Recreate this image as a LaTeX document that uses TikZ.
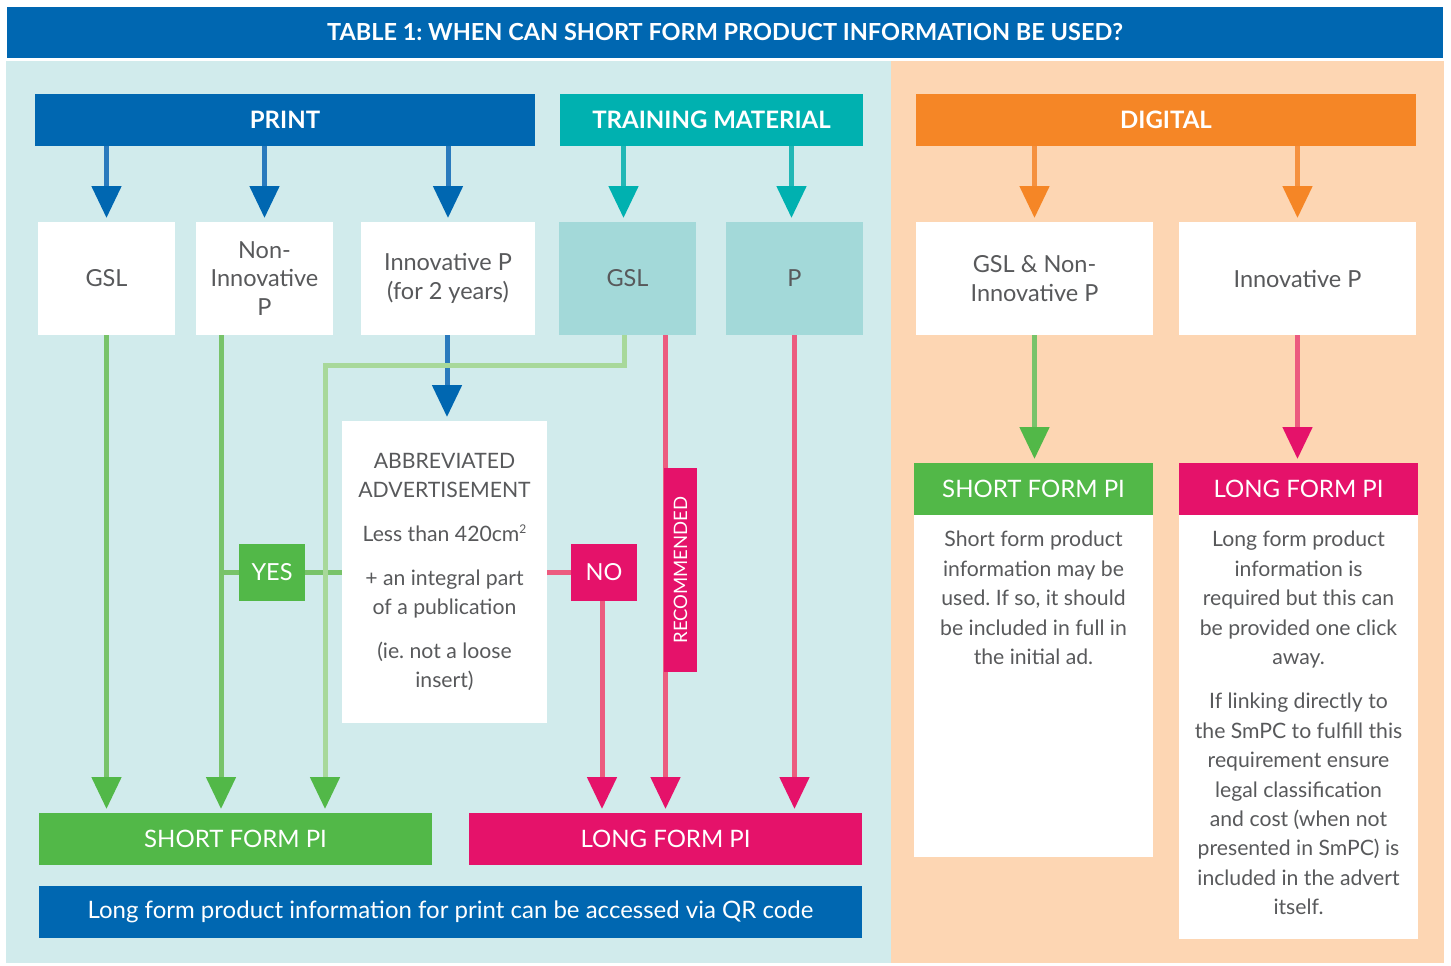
\documentclass[tikz,border=0pt]{standalone}
\usepackage{fontspec}
\setmainfont{Lato}
\usepackage{tikz}
\usetikzlibrary{arrows.meta,positioning}
\frenchspacing
\definecolor{dkblue}{HTML}{0067B1}
\definecolor{teal}{HTML}{00B1B0}
\definecolor{orng}{HTML}{F58626}
\definecolor{grn}{HTML}{52B848}
\definecolor{mgnt}{HTML}{E5126A}
\definecolor{cyanbg}{HTML}{D1EBEC}
\definecolor{peachbg}{HTML}{FDD6B3}
\definecolor{tealbox}{HTML}{A3D9D9}
\definecolor{txtgray}{HTML}{58595B}
\definecolor{grnline}{HTML}{78C36A}
\definecolor{lgrnline}{HTML}{A8D89A}
\definecolor{pnkline}{HTML}{EC5B7F}
\definecolor{blueline}{HTML}{2A7ABD}
\definecolor{tealline}{HTML}{22B7B5}
\definecolor{orngline}{HTML}{F5913F}
\tikzset{
    %Define style for coloured bars
    bar/.style={
           rectangle,
           inner sep=0pt, outer sep=0pt,
           minimum height=52pt,
           text=white,
           font=\fontsize{24}{28}\selectfont},
    %Define style for white boxes
    cell/.style={
           rectangle,
           fill=white,
           inner sep=0pt, outer sep=0pt,
           minimum height=113pt,
           text=txtgray,
           align=center,
           font=\fontsize{23.5}{28.5}\selectfont},
    %small labels on the lines
    tag/.style={
           rectangle,
           inner sep=0pt, outer sep=0pt,
           text=white,
           font=\fontsize{23.5}{28}\selectfont},
    body/.style={
           text=txtgray,
           align=center,
           inner sep=0pt,
           font=\fontsize{21.2}{29.4}\selectfont},
    % Define arrow style
    pil/.style={
           line width=5pt,
           -{Triangle[width=29pt,length=32pt,color=#1]},
           shorten >=4pt},
}

\begin{document}
\begin{tikzpicture}[x=1pt,y=-1pt]
\useasboundingbox (0,0) rectangle (1451,966);

 %background
\fill[cyanbg] (6,61) rectangle (891,963);
\fill[peachbg] (891,61) rectangle (1444,963);
\node[bar, fill=dkblue, minimum width=1436pt, minimum height=51pt, font=\fontsize{23.5}{28}\selectfont\bfseries] (title) at (725,32.5)
    {TABLE 1: WHEN CAN SHORT FORM PRODUCT INFORMATION BE USED?};

 %headers
\node[bar, fill=dkblue, minimum width=500pt, font=\fontsize{24}{28}\selectfont\bfseries] (print) at (285,120) {PRINT};
\node[bar, fill=teal, minimum width=303pt, font=\fontsize{24}{28}\selectfont\bfseries] (train) at (711.5,120) {TRAINING MATERIAL};
\node[bar, fill=orng, minimum width=500pt, font=\fontsize{24}{28}\selectfont\bfseries] (digital) at (1166,120) {DIGITAL};

 %first row
\node[cell, minimum width=137pt] (gsl) at (106.5,278.5) {GSL};
\node[cell, minimum width=137pt] (noninno) at (264.5,278.5) {Non-\\Innovative\\P};
\node[cell, minimum width=174pt] (inno) at (448,278.5) {Innovative P\\(for 2 years)};
\node[cell, fill=tealbox, minimum width=137pt] (tgsl) at (627.5,278.5) {GSL};
\node[cell, fill=tealbox, minimum width=137pt] (tp) at (794.5,278.5) {P};
\node[cell, minimum width=237pt] (dgsl) at (1034.5,278.5) {GSL \& Non-\\Innovative P};
\node[cell, minimum width=237pt] (dinno) at (1297.5,278.5) {Innovative P};

\node[cell, minimum width=205pt, minimum height=302pt, font=\fontsize{21.2}{29}\selectfont] (abbr) at (444.5,572)
    {ABBREVIATED\\ADVERTISEMENT\\[15pt]Less than 420cm\raisebox{0.75ex}{\fontsize{12}{12}\selectfont 2}\\[15pt]+ an integral part\\of a publication\\[15pt](ie. not a loose\\insert)};

 %outcomes
\node[bar, fill=grn, minimum width=393pt] (sfpi) at (235.5,839) {SHORT FORM PI};
\node[bar, fill=mgnt, minimum width=393pt] (lfpi) at (665.5,839) {LONG FORM PI};
\node[bar, fill=dkblue, minimum width=823pt] (qr) at (450.5,912) {Long form product information for print can be accessed via QR code};

\node[bar, fill=grn, minimum width=239pt] (dsf) at (1033.5,489) {SHORT FORM PI};
\node[bar, fill=white, minimum width=239pt, minimum height=342pt, below=0pt of dsf] (dsfbody) {};
\node[bar, fill=mgnt, minimum width=239pt] (dlf) at (1298.5,489) {LONG FORM PI};
\node[bar, fill=white, minimum width=239pt, minimum height=424pt, below=0pt of dlf] (dlfbody) {};
\node[body, anchor=north] (dsftxt) at ([yshift=-16pt]dsfbody.north)
    {Short form product\\information may be\\used. If so, it should\\be included in full in\\the initial ad.};
\node[body, anchor=north] (dlftxt) at ([yshift=-16pt]dlfbody.north)
    {Long form product\\information is\\required but this can\\be provided one click\\away.\\[15pt]If linking directly to\\the SmPC to fulfill this\\requirement ensure\\legal classification\\and cost (when not\\presented in SmPC) is\\included in the advert\\itself.};

 %arrows from headers
\draw[pil=dkblue, blueline] (print.south -| gsl.north) -- (gsl.north);
\draw[pil=dkblue, blueline] (print.south -| noninno.north) -- (noninno.north);
\draw[pil=dkblue, blueline] (print.south -| inno.north) -- (inno.north);
\draw[pil=teal, tealline] ([xshift=-4pt]train.south -| tgsl.north) -- ([xshift=-4pt]tgsl.north);
\draw[pil=teal, tealline] ([xshift=-3pt]train.south -| tp.north) -- ([xshift=-3pt]tp.north);
\draw[pil=orng, orngline] (digital.south -| dgsl.north) -- (dgsl.north);
\draw[pil=orng, orngline] (digital.south -| dinno.north) -- (dinno.north);

 %flow
\draw[pil=dkblue, blueline] ([xshift=-1pt]inno.south) -- ([xshift=-1pt]inno.south |- abbr.north);
\draw[pil=grn, grnline] (gsl.south) -- (gsl.south |- sfpi.north);
\draw[pil=grn, grnline] ([xshift=-43.5pt]noninno.south) -- ([xshift=-43.5pt]noninno.south |- sfpi.north);
\draw[grnline, line width=5pt] ([xshift=-43.5pt]noninno.south |- abbr.west) -- (abbr.west);
\draw[pil=grn, lgrnline] ([xshift=-3.5pt]tgsl.south) -- ++(0,30) -| ([xshift=89.5pt]sfpi.north);
\draw[pil=mgnt, pnkline] (abbr.east) -| ([xshift=-63.5pt]lfpi.north);
\draw[pil=mgnt, pnkline] (tgsl.south -| lfpi.north) -- (lfpi.north);
\draw[pil=mgnt, pnkline] (tp.south) -- (tp.south |- lfpi.north);
\draw[pil=grn, grnline] (dgsl.south) -- (dgsl.south |- dsf.north);
\draw[pil=mgnt, pnkline] (dinno.south) -- (dinno.south |- dlf.north);

 %labels on the lines
\node[tag, fill=grn, minimum width=66pt, minimum height=57pt] (yes) at (272,572) {YES};
\node[tag, fill=mgnt, minimum width=66pt, minimum height=57pt] (no) at (604,572) {NO};
\node[tag, fill=mgnt, minimum width=204pt, minimum height=33pt, rotate=90, font=\fontsize{18.5}{22}\selectfont] (recom) at (680.5,570) {RECOMMENDED};
\end{tikzpicture}
\end{document}
